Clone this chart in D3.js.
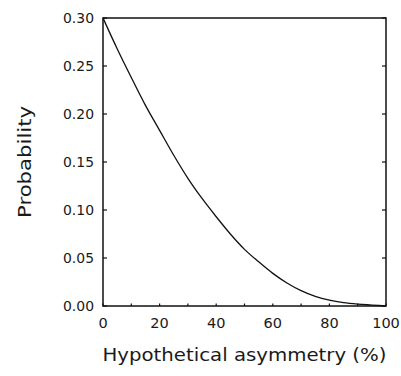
<!DOCTYPE html>
<html>
<head>
<meta charset="utf-8">
<script src="https://cdn.jsdelivr.net/npm/d3@7"></script>
<style>
  body { margin: 0; background: #fff; }
  svg text { font-family: "DejaVu Sans", sans-serif; fill: #1a1a1a; }
</style>
</head>
<body>
<div class="chart-svg"></div>
<script>
// asymmetry (%) vs probability
var asymmetry = [0, 5, 10, 15, 20, 25, 30, 35, 40, 45, 50, 55, 60, 65, 70, 75, 80, 85, 90, 95, 100];
var probability = [0.300, 0.268, 0.238, 0.209, 0.183, 0.157, 0.133, 0.112, 0.093, 0.075, 0.059, 0.046, 0.034, 0.024, 0.016, 0.010, 0.006, 0.0035, 0.002, 0.001, 0.000];
var xTicks = [0, 20, 40, 60, 80, 100];
var xMinor = [10, 30, 50, 70, 90];
var yTicks = [0, 0.05, 0.10, 0.15, 0.20, 0.25, 0.30];

var svgWidth = 401;
var svgHeight = 376;
var padding = {top: 18, right: 15, bottom: 70, left: 103};

var svg = d3.select(".chart-svg")
    .append("svg")
    .attr("width", svgWidth)
    .attr("height", svgHeight);

var xScale = d3.scaleLinear()
    .domain([0, 100])
    .range([padding.left, svgWidth - padding.right]);

var yScale = d3.scaleLinear()
    .domain([0, 0.30])
    .range([svgHeight - padding.bottom, padding.top]);

var x0 = xScale(0), x1 = xScale(100), y0 = yScale(0), y1 = yScale(0.30);

// frame
svg.append("rect")
    .attr("x", x0).attr("y", y1)
    .attr("width", x1 - x0).attr("height", y0 - y1)
    .attr("fill", "none")
    .attr("stroke", "#111")
    .attr("stroke-width", 1.5);

// y ticks, inward on both sides
yTicks.forEach(function(t){
    svg.append("line")
        .attr("x1", x0).attr("x2", x0 + 4)
        .attr("y1", yScale(t)).attr("y2", yScale(t))
        .attr("stroke", "#111").attr("stroke-width", 1.2);
    svg.append("line")
        .attr("x1", x1).attr("x2", x1 - 4)
        .attr("y1", yScale(t)).attr("y2", yScale(t))
        .attr("stroke", "#111").attr("stroke-width", 1.2);
    svg.append("text")
        .attr("x", x0 - 9)
        .attr("y", yScale(t))
        .attr("dy", "0.36em")
        .attr("text-anchor", "end")
        .attr("font-size", "14.5px")
        .attr("textLength", 31)
        .attr("lengthAdjust", "spacingAndGlyphs")
        .text(d3.format(".2f")(t));
});

// x ticks, small and inward
xTicks.concat(xMinor).forEach(function(t){
    svg.append("line")
        .attr("x1", xScale(t)).attr("x2", xScale(t))
        .attr("y1", y0).attr("y2", y0 - 2.5)
        .attr("stroke", "#111").attr("stroke-width", 1.2);
});
xTicks.forEach(function(t){
    svg.append("text")
        .attr("x", xScale(t))
        .attr("y", y0 + 22)
        .attr("text-anchor", "middle")
        .attr("font-size", "14.5px")
        .text(t);
});

// curve
var line = d3.line()
    .x(function(d, i){ return xScale(asymmetry[i]); })
    .y(function(d){ return yScale(d); })
    .curve(d3.curveMonotoneX);

svg.append("path")
    .datum(probability)
    .attr("d", line)
    .attr("fill", "none")
    .attr("stroke", "#111")
    .attr("stroke-width", 1.3);

// axis titles
svg.append("text")
    .attr("x", (x0 + x1) / 2)
    .attr("y", 361)
    .attr("text-anchor", "middle")
    .attr("font-size", "18px")
    .attr("textLength", 284)
    .attr("lengthAdjust", "spacingAndGlyphs")
    .text("Hypothetical asymmetry (%)");

svg.append("text")
    .attr("transform", "translate(31," + ((y0 + y1) / 2) + ") rotate(-90)")
    .attr("text-anchor", "middle")
    .attr("font-size", "18px")
    .attr("textLength", 112)
    .attr("lengthAdjust", "spacingAndGlyphs")
    .text("Probability");
</script>
</body>
</html>
